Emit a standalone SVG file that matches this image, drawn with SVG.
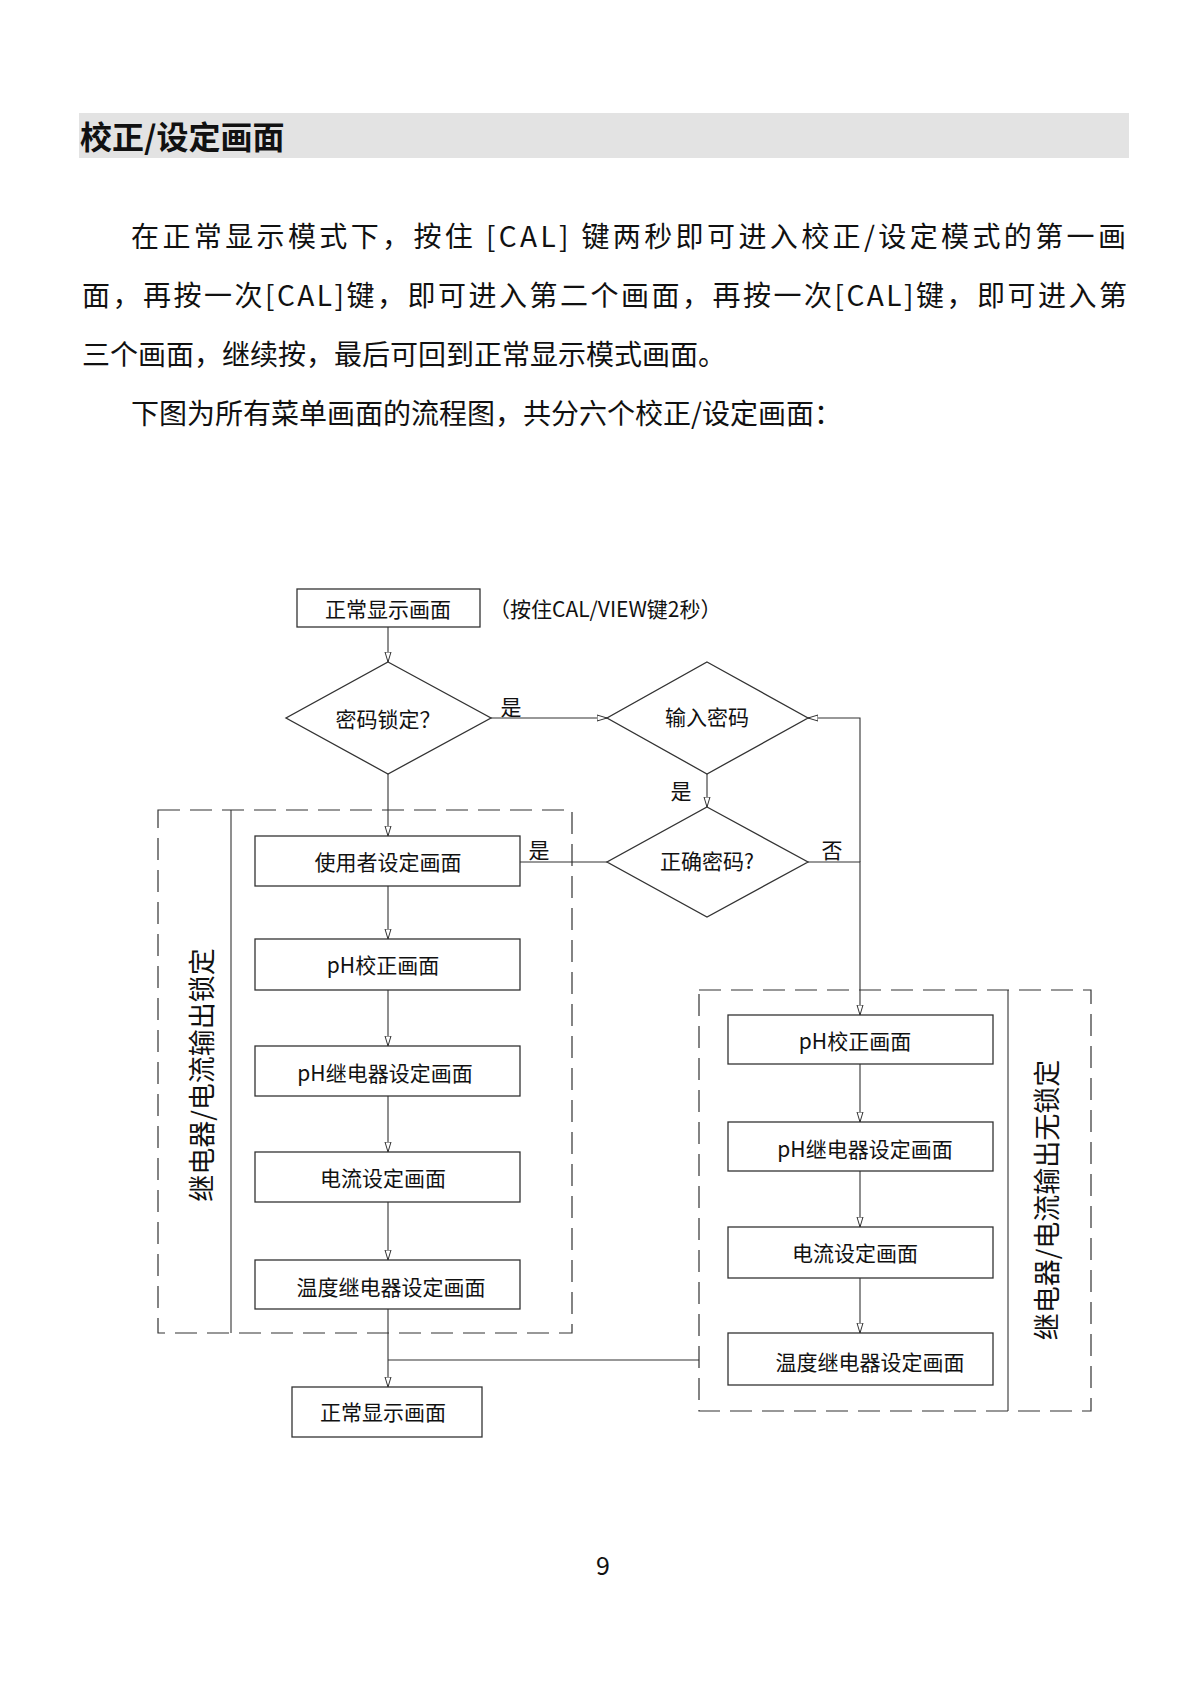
<svg xmlns="http://www.w3.org/2000/svg" width="1200" height="1700" viewBox="0 0 1200 1700">
<style>
text{font-family:"Noto Sans CJK SC","Noto Sans",sans-serif;fill:#111}
.p{font-size:28px}
.n{font-size:21px;text-anchor:middle;dominant-baseline:central}
.b{fill:#fff;stroke:#333;stroke-width:1.3}
.d{fill:none;stroke:#333;stroke-width:1.2;stroke-dasharray:22 10}
.l{fill:none;stroke:#333;stroke-width:1.1}
</style>
<defs>
<marker id="a" viewBox="0 0 10 10" refX="10" refY="5" markerWidth="10" markerHeight="10" orient="auto" markerUnits="userSpaceOnUse">
<path d="M0,2 L10,5 L0,8 Z" fill="#fff" stroke="#333" stroke-width="1"/>
</marker>
</defs>
<rect width="1200" height="1700" fill="#fff"/>
<rect x="79" y="113" width="1050" height="45" fill="#e3e3e3"/>
<text x="80" y="149" style="font-size:32px;font-weight:bold">校正/设定画面</text>
<text class="p" x="131" y="247" textLength="995">在正常显示模式下，按住 [CAL] 键两秒即可进入校正/设定模式的第一画</text>
<text class="p" x="82" y="306" textLength="1045">面，再按一次[CAL]键，即可进入第二个画面，再按一次[CAL]键，即可进入第</text>
<text class="p" x="82" y="365">三个画面，继续按，最后可回到正常显示模式画面。</text>
<text class="p" x="131" y="424">下图为所有菜单画面的流程图，共分六个校正/设定画面：</text>

<g id="groups">
<rect class="d" x="158" y="810" width="414" height="523"/>
<line class="l" x1="231" y1="810" x2="231" y2="1333"/>
<text transform="translate(200,1075) rotate(-90)" style="font-size:27px;text-anchor:middle;dominant-baseline:central">继电器/电流输出锁定</text>
<rect class="d" x="699" y="990" width="392" height="421"/>
<line class="l" x1="1008" y1="990" x2="1008" y2="1411"/>
<text transform="translate(1045,1200) rotate(-90)" style="font-size:27px;text-anchor:middle;dominant-baseline:central">继电器/电流输出无锁定</text>
</g>

<g id="connectors">
<line class="l" x1="388" y1="627" x2="388" y2="662" marker-end="url(#a)"/>
<line class="l" x1="491" y1="718" x2="607" y2="718" marker-end="url(#a)"/>
<line class="l" x1="388" y1="774" x2="388" y2="836" marker-end="url(#a)"/>
<line class="l" x1="707" y1="774" x2="707" y2="807" marker-end="url(#a)"/>
<line class="l" x1="607" y1="862" x2="520" y2="862"/>
<polyline class="l" points="808,862 860,862 860,1015" marker-end="url(#a)"/>
<polyline class="l" points="860,862 860,718 808,718" marker-end="url(#a)"/>
<line class="l" x1="388" y1="886" x2="388" y2="939" marker-end="url(#a)"/>
<line class="l" x1="388" y1="990" x2="388" y2="1046" marker-end="url(#a)"/>
<line class="l" x1="388" y1="1096" x2="388" y2="1152" marker-end="url(#a)"/>
<line class="l" x1="388" y1="1202" x2="388" y2="1260" marker-end="url(#a)"/>
<line class="l" x1="388" y1="1309" x2="388" y2="1387" marker-end="url(#a)"/>
<line class="l" x1="388" y1="1360" x2="699" y2="1360"/>
<line class="l" x1="860" y1="1064" x2="860" y2="1122" marker-end="url(#a)"/>
<line class="l" x1="860" y1="1171" x2="860" y2="1227" marker-end="url(#a)"/>
<line class="l" x1="860" y1="1278" x2="860" y2="1333" marker-end="url(#a)"/>
<text x="511" y="706" class="n">是</text>
<text x="681" y="790" class="n">是</text>
<text x="539" y="849" class="n">是</text>
<text x="832" y="849" class="n">否</text>
</g>

<g id="start"><rect class="b" x="297" y="589" width="183" height="38"/><text class="n" x="388" y="608">正常显示画面</text></g>
<text x="489" y="608" style="font-size:21px;dominant-baseline:central">（按住CAL/VIEW键2秒）</text>
<g id="d1"><polygon class="b" points="388,662 491,718 388,774 286,718"/><text class="n" x="388" y="718">密码锁定？</text></g>
<g id="d2"><polygon class="b" points="707,662 808,718 707,774 607,718"/><text class="n" x="707" y="716">输入密码</text></g>
<g id="d3"><polygon class="b" points="707,807 808,862 707,917 607,862"/><text class="n" x="707" y="860">正确密码?</text></g>

<g id="L1"><rect class="b" x="255" y="836" width="265" height="50"/><text class="n" x="388" y="861">使用者设定画面</text></g>
<g id="L2"><rect class="b" x="255" y="939" width="265" height="51"/><text class="n" x="383" y="964">pH校正画面</text></g>
<g id="L3"><rect class="b" x="255" y="1046" width="265" height="50"/><text class="n" x="385" y="1072">pH继电器设定画面</text></g>
<g id="L4"><rect class="b" x="255" y="1152" width="265" height="50"/><text class="n" x="383" y="1177">电流设定画面</text></g>
<g id="L5"><rect class="b" x="255" y="1260" width="265" height="49"/><text class="n" x="391" y="1286">温度继电器设定画面</text></g>
<g id="end"><rect class="b" x="292" y="1387" width="190" height="50"/><text class="n" x="383" y="1411">正常显示画面</text></g>

<g id="R1"><rect class="b" x="728" y="1015" width="265" height="49"/><text class="n" x="855" y="1040">pH校正画面</text></g>
<g id="R2"><rect class="b" x="728" y="1122" width="265" height="49"/><text class="n" x="865" y="1148">pH继电器设定画面</text></g>
<g id="R3"><rect class="b" x="728" y="1227" width="265" height="51"/><text class="n" x="855" y="1252">电流设定画面</text></g>
<g id="R4"><rect class="b" x="728" y="1333" width="265" height="52"/><text class="n" x="870" y="1361">温度继电器设定画面</text></g>

<text x="603" y="1575" style="font-size:25px;text-anchor:middle">9</text>
</svg>
